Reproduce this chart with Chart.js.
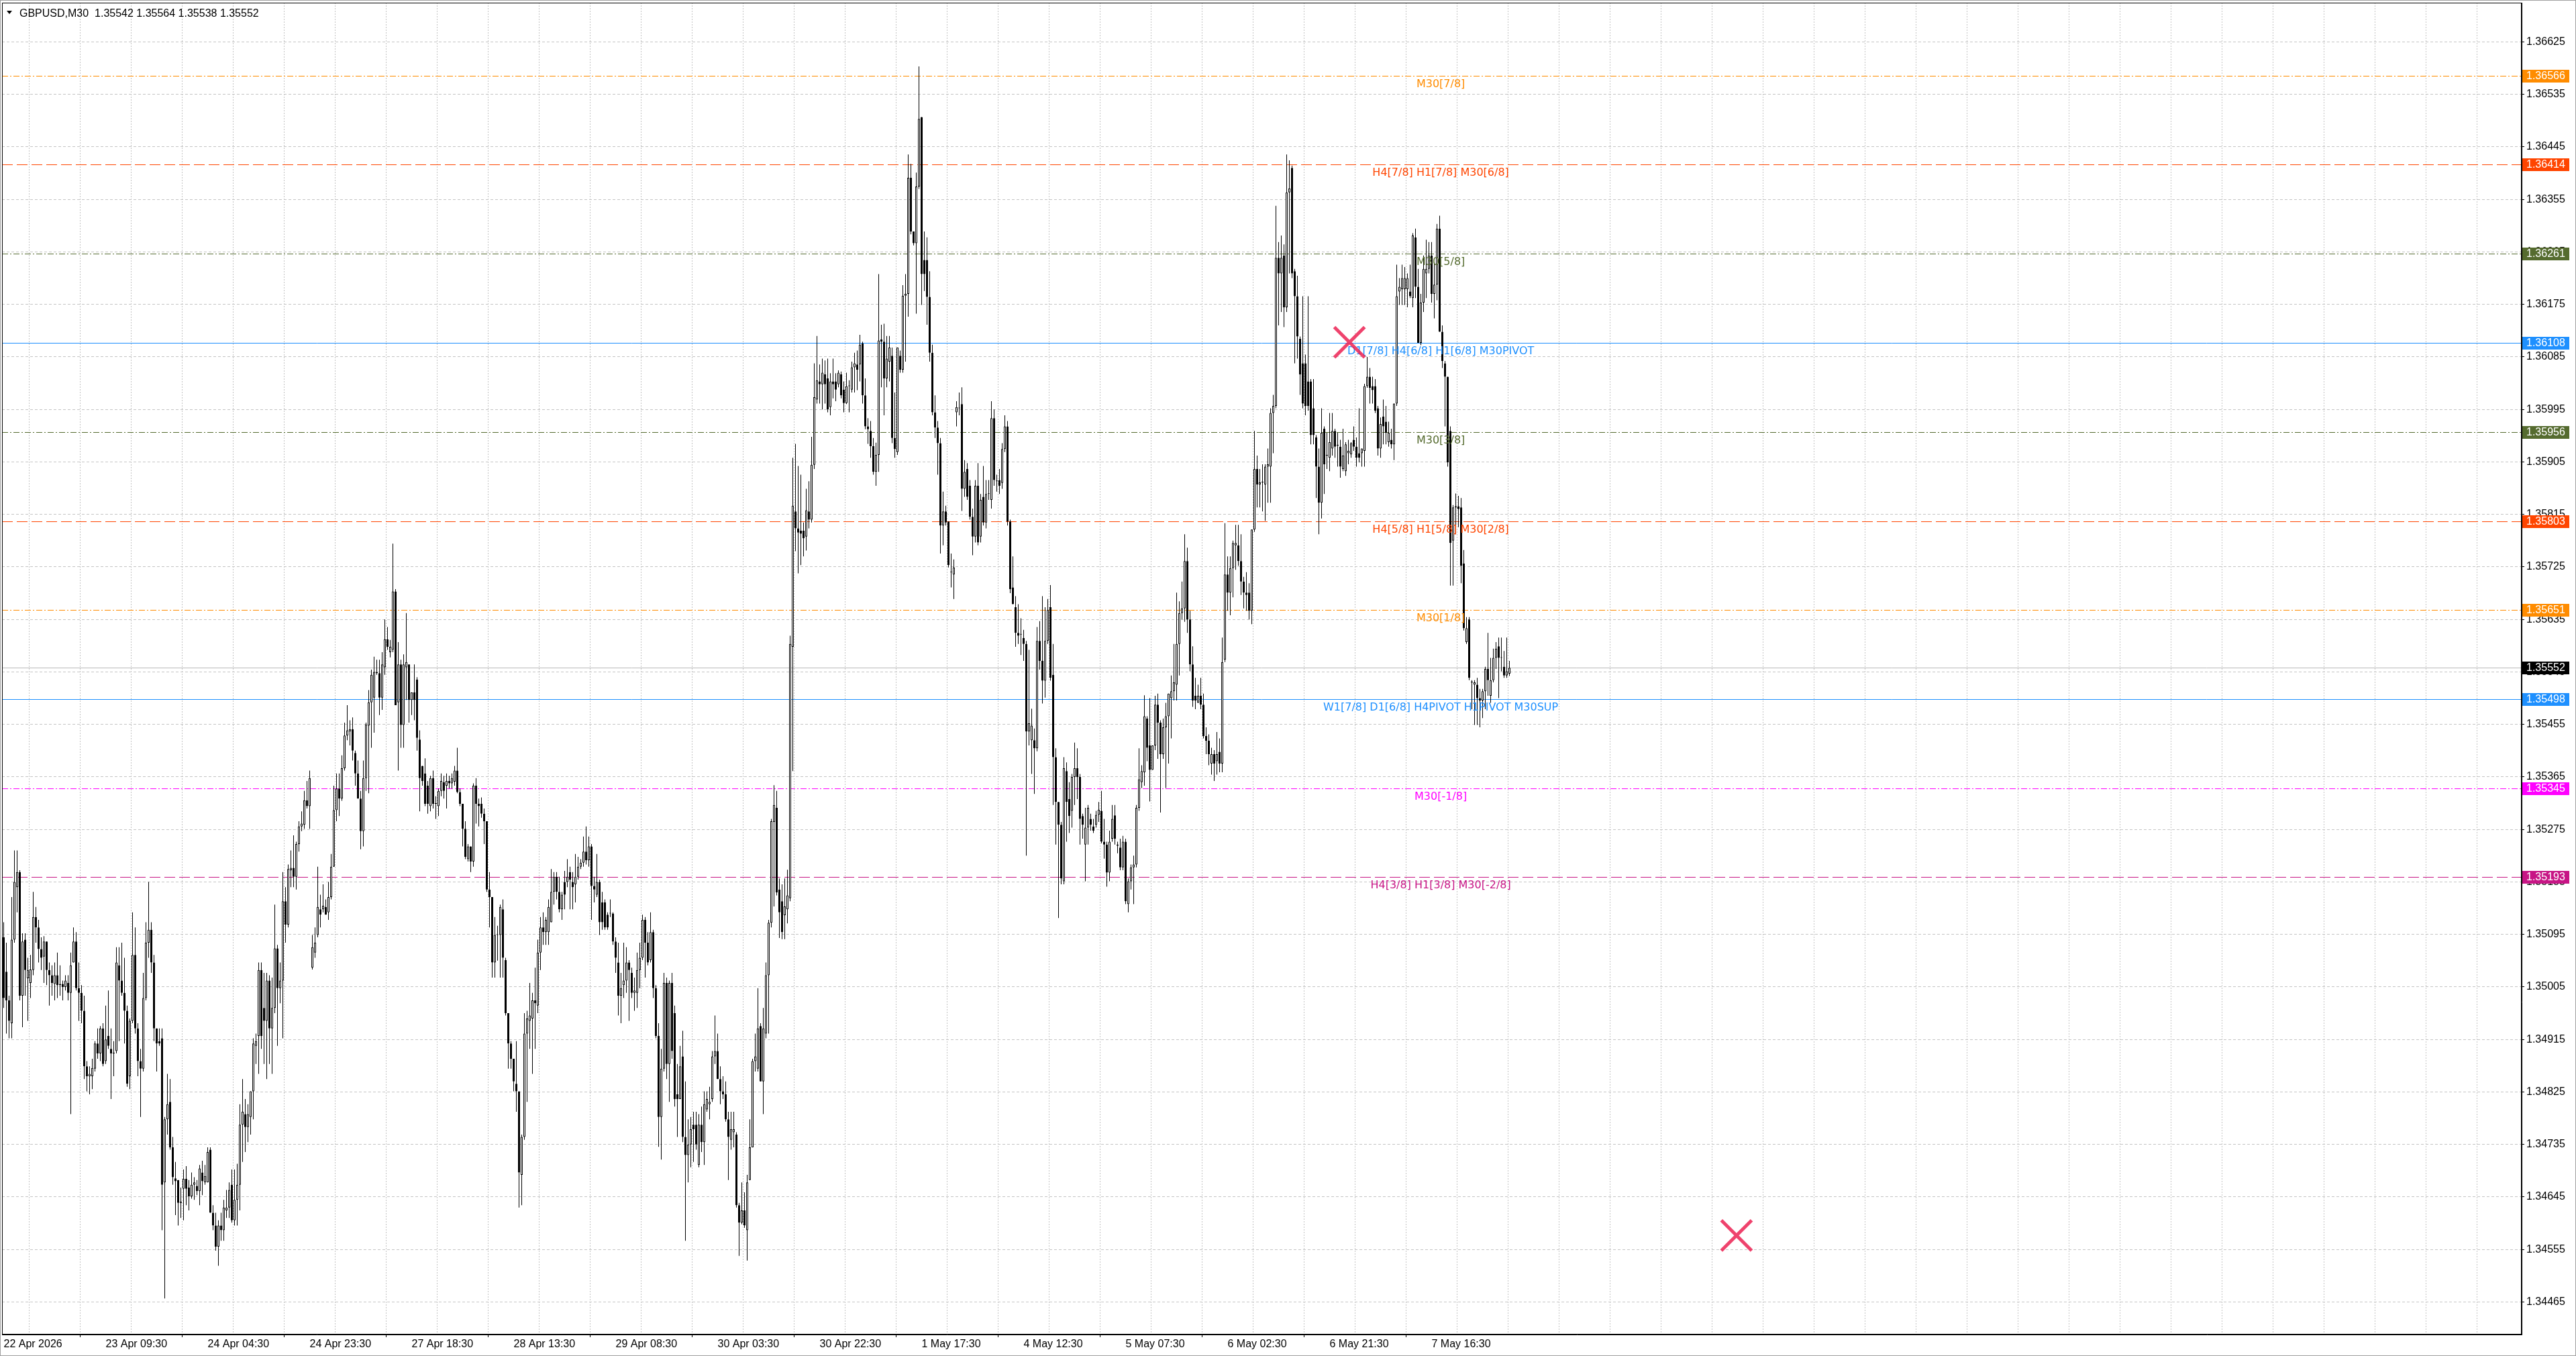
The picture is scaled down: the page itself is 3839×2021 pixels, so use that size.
<!DOCTYPE html>
<html>
<head>
<meta charset="utf-8">
<title>GBPUSD,M30</title>
<script src="https://cdn.jsdelivr.net/npm/chart.js@4.4.1/dist/chart.umd.min.js"></script>
<style>
    html, body { margin: 0; padding: 0; background: #fff; overflow: hidden; }
    canvas { display: block; }
</style>
</head>
<body>
<canvas id="chart" width="3839" height="2021" style="width:3839px;height:2021px"></canvas>
<script>
const symbol = 'GBPUSD,M30';
const BASE_PRICE = 1.34;
const POINT = 0.00001;

const opens = [
    1090,1031,982,943,1086,1176,1202,990,1086,1020, 1012,1034,1125,1107,1070,1057,1083,1034,1025,1010,
    1025,1008,1010,1005,1012,995,1047,1083,1003,995, 964,869,852,852,865,908,891,934,878,921,
    899,891,895,1042,1016,995,964,852,947,1060, 934,878,865,986,1081,1103,1047,934,912,917,
    670,778,808,730,677,674,635,659,676,661, 646,666,664,655,687,670,670,726,618,596,
    560,596,588,622,627,666,605,640,666,769, 787,765,782,826,904,921,1034,969,947,1016,
    934,969,1071,1003,1016,1152,1112,1205,1209,1194, 1250,1280,1283,1325,1315,1038,1064,1094,1138,1138,
    1142,1133,1159,1211,1308,1345,1328,1380,1436,1443, 1447,1406,1371,1328,1272,1363,1453,1493,1501,1545,
    1543,1501,1553,1601,1579,1583,1683,1493,1558,1454, 1553,1558,1497,1510,1532,1429,1384,1371,1350,1315,
    1363,1319,1315,1341,1356,1350,1358,1354,1357,1376, 1339,1319,1276,1224,1246,1220,1350,1319,1319,1302,
    1289,1172,1159,1047,1094,1094,1138,1051,960,908, 882,839,826,683,748,925,947,951,982,973,
    1064,1107,1099,1099,1116,1168,1194,1168,1138,1185, 1185,1202,1185,1181,1194,1211,1218,1237,1222,1246,
    1178,1163,1185,1150,1150,1129,1131,1131,1083,1047, 990,1008,1016,1047,1029,995,995,1034,1055,1120,
    1081,1051,1099,1003,921,782,865,1012,873,1012, 960,821,813,886,748,717,735,769,769,700,
    769,739,795,804,813,886,895,847,826,821, 778,743,756,752,631,601,622,588,674,730,
    878,865,938,843,925,1025,1115,1288,1312,1172, 1152,1128,1138,1157,1588,1820,1791,1787,1787,1777,
    1820,1806,1900,2012,2043,2038,2055,2048,1999,2043, 2043,2038,2055,2029,2006,2035,2029,2067,2072,2072,
    2108,2019,1966,1958,1932,1888,1917,2115,2111,2048, 2077,2087,1946,1922,2087,2063,2190,2193,2392,2300,
    2280,2377,2496,2251,2251,2188,2092,1990,1964,1937, 1796,1820,1803,1716,1712,1990,1997,2004,1859,1893,
    1864,1811,1777,1864,1777,1845,1801,1850,1840,1980, 1872,1874,1869,1927,1966,1803,1690,1656,1612,1609,
    1603,1593,1443,1428,1428,1414,1598,1564,1530,1598, 1656,1540,1399,1322,1283,1186,1375,1327,1307,1365,
    1380,1365,1298,1249,1278,1293,1280,1283,1300,1307, 1254,1249,1201,1259,1299,1249,1244,1210,1254,1147,
    1186,1210,1215,1312,1356,1373,1465,1419,1377,1419, 1489,1458,1404,1450,1469,1500,1512,1523,1593,1646,
    1654,1735,1635,1558,1504,1492,1504,1489,1435,1427, 1388,1404,1392,1408,1388,1566,1712,1681,1723,1762,
    1762,1735,1700,1681,1681,1650,1789,1893,1866,1870, 1866,1897,1897,1989,2001,2255,2228,2259,2170,2367,
    2409,2232,2189,2116,2074,2074,2043,2043,1997,1947, 1897,1835,1962,1916,1912,1928,1958,1933,1931,1893,
    1889,1920,1918,1943,1931,1920,1920,1924,2035,2051, 2035,2035,1997,1928,1983,1974,1939,1943,1935,2005,
    2197,2201,2201,2201,2197,2186,2290,2205,2109,2178, 2228,2236,2259,2193,2209,2305,2128,2074,2051,1958,
    1770,1827,1829,1827,1731,1596,1635,1527,1523,1523, 1500,1496,1512,1550,1504,1531,1569,1589,1569,1554,
    1539,1542
];
const highs = [
    1116,1081,990,1159,1239,1239,1205,1097,1097,1055, 1060,1168,1142,1120,1090,1092,1083,1047,1042,1047,
    1064,1042,1016,1025,1025,1064,1107,1099,1047,1008, 990,878,869,882,912,934,938,943,973,999,
    934,912,1073,1073,1081,1055,973,951,1133,1107, 943,899,1029,1116,1185,1116,1060,934,934,934,
    782,856,847,748,705,674,661,692,698,674, 687,679,674,700,707,700,730,730,631,618,
    605,618,640,657,670,692,692,702,804,847, 813,804,826,917,925,1047,1047,1029,1029,1025,
    1021,1146,1077,1047,1202,1176,1215,1239,1265,1254, 1289,1306,1341,1358,1376,1094,1107,1211,1163,1181,
    1155,1185,1233,1350,1371,1371,1402,1458,1488,1462, 1467,1410,1393,1341,1393,1458,1514,1549,1571,1566,
    1566,1579,1635,1622,1600,1765,1687,1596,1566,1575, 1646,1558,1510,1558,1536,1445,1384,1397,1358,1367,
    1376,1332,1345,1371,1367,1371,1367,1371,1384,1415, 1345,1319,1289,1250,1246,1354,1363,1328,1330,1311,
    1289,1202,1159,1125,1110,1146,1155,1055,960,912, 882,912,826,752,960,964,1012,995,1038,1086,
    1125,1133,1125,1155,1207,1202,1202,1194,1168,1204, 1224,1211,1202,1233,1228,1224,1263,1280,1263,1250,
    1194,1233,1189,1168,1155,1133,1155,1133,1090,1081, 1029,1081,1073,1051,1038,1021,1064,1081,1129,1125,
    1099,1133,1103,1008,943,899,1029,1021,1016,1029, 973,873,904,930,843,778,782,791,791,787,
    800,826,826,834,895,956,925,869,852,843, 791,791,791,756,635,670,653,683,778,882,
    925,1003,943,969,1047,1120,1293,1351,1341,1191, 1181,1191,1206,1607,1912,1936,1898,1883,1801,1859,
    1872,1948,2074,2121,2072,2082,2079,2082,2057,2082, 2057,2062,2060,2043,2058,2045,2077,2092,2096,2123,
    2111,2048,1980,1975,1946,1938,2227,2140,2142,2121, 2121,2101,2024,2101,2096,2208,2227,2432,2416,2300,
    2401,2583,2496,2300,2290,2232,2106,2019,1975,1946, 1854,1830,1803,1748,1738,2009,2024,2033,1908,1903,
    1874,1825,1874,1903,1850,1898,1874,1874,2009,1995, 1883,1893,1937,1985,1975,1806,1743,1675,1661,1637,
    1617,1598,1583,1482,1448,1622,1632,1675,1656,1670, 1694,1593,1414,1322,1288,1399,1390,1356,1370,1424,
    1414,1370,1302,1312,1317,1302,1293,1307,1322,1341, 1293,1254,1273,1317,1317,1254,1259,1264,1259,1191,
    1215,1230,1317,1414,1385,1505,1469,1500,1419,1504, 1508,1462,1465,1492,1508,1539,1593,1681,1666,1700,
    1781,1758,1650,1589,1535,1523,1535,1508,1450,1438, 1415,1411,1442,1431,1604,1800,1743,1743,1770,1797,
    1797,1781,1708,1716,1697,1789,1958,1916,1893,1901, 1901,1928,1997,2020,2344,2282,2293,2278,2432,2422,
    2413,2236,2224,2120,2189,2089,2189,2047,2047,1951, 1928,1997,1966,1955,1989,1989,1962,1955,1943,1962,
    1939,1943,1939,1966,1947,1997,1928,2039,2085,2066, 2051,2047,2001,1981,2012,2001,1974,1962,2005,2243,
    2220,2243,2239,2228,2243,2297,2305,2236,2193,2259, 2286,2282,2282,2247,2313,2327,2139,2078,2051,1966,
    1831,1851,1847,1843,1754,1639,1639,1531,1531,1535, 1516,1516,1554,1612,1569,1585,1596,1604,1604,1581,
    1604,1564
];
const lows = [
    969,925,917,917,1081,1133,982,936,990,947, 986,1025,1081,1047,1034,1012,1008,973,990,982,
    986,990,982,999,982,787,1047,999,947,943, 847,826,821,830,860,882,878,869,873,899,
    813,852,891,912,990,908,834,830,943,925, 852,782,860,982,1055,1029,912,860,904,588,
    471,752,726,666,614,596,609,605,631,622, 642,640,648,631,648,666,670,618,588,553,
    527,570,570,609,609,601,596,596,622,705, 722,739,752,778,873,856,899,873,847,873,
    856,960,904,977,917,1081,1107,1176,1176,1172, 1237,1272,1276,1311,1276,1035,1055,1090,1107,1133,
    1129,1120,1155,1211,1289,1298,1324,1376,1428,1419, 1393,1350,1328,1241,1246,1341,1337,1415,1441,1540,
    1471,1480,1540,1583,1570,1579,1488,1376,1415,1415, 1497,1458,1471,1462,1410,1306,1350,1315,1302,1306,
    1311,1293,1298,1332,1328,1311,1345,1345,1350,1337, 1315,1246,1224,1220,1202,1211,1285,1280,1295,1250,
    1168,1107,1021,1021,1050,1021,1021,956,865,865, 826,791,627,631,743,808,899,856,899,960,
    1034,1077,1077,1077,1116,1146,1155,1133,1120,1138, 1176,1138,1138,1150,1189,1207,1211,1215,1211,1120,
    1150,1159,1094,1103,1103,1103,1125,1077,1029,956, 943,986,995,947,986,964,969,1003,1051,1021,
    1042,1047,986,917,731,709,860,847,808,882, 800,748,813,739,570,670,696,705,726,696,
    722,700,791,778,808,873,847,804,813,774, 674,726,730,627,544,598,592,536,674,730,
    860,860,843,787,917,925,1107,1143,1162,1089, 1087,1087,1114,1152,1375,1752,1714,1728,1743,1753,
    1791,1801,1893,2005,2005,1995,2005,1990,1985,2014, 2009,2033,2014,1990,2004,1990,2024,2024,2028,2043,
    2005,1961,1936,1912,1883,1864,1888,2033,1985,2033, 2043,1937,1912,1917,2058,2058,2077,2154,2295,2276,
    2159,2373,2174,2198,2140,2077,1985,1946,1883,1748, 1762,1796,1724,1690,1670,1966,1985,1821,1845,1840,
    1806,1745,1767,1762,1767,1796,1791,1840,1825,1864, 1854,1850,1859,1922,1796,1680,1661,1588,1593,1574,
    1564,1230,1419,1370,1336,1409,1549,1491,1501,1593, 1530,1317,1249,1123,1181,1181,1254,1269,1278,1317,
    1327,1249,1259,1186,1249,1273,1269,1278,1288,1251, 1225,1177,1186,1254,1249,1234,1205,1205,1147,1133,
    1172,1147,1210,1307,1346,1350,1392,1323,1377,1411, 1396,1304,1396,1346,1388,1431,1496,1496,1539,1635,
    1631,1612,1546,1485,1481,1492,1481,1431,1404,1385, 1369,1358,1369,1373,1373,1562,1650,1642,1673,1720,
    1727,1677,1654,1650,1635,1627,1785,1827,1827,1820, 1804,1835,1835,1920,1997,2139,2162,2136,2162,2228,
    2220,2074,2082,2020,1997,1985,1993,1935,1935,1843, 1781,1808,1850,1893,1889,1916,1912,1897,1878,1889,
    1881,1901,1912,1924,1897,1904,1897,1897,2032,2005, 2005,1989,1916,1912,1935,1935,1931,1928,1908,2001,
    2174,2174,2174,2170,2186,2170,2186,2109,2105,2162, 2186,2228,2178,2151,2182,2128,2066,1966,1897,1693,
    1693,1781,1793,1697,1616,1593,1531,1481,1454,1454, 1450,1466,1481,1504,1492,1527,1550,1500,1546,1535,
    1535,1538
];
const closes = [
    986,982,947,1086,1185,1202,990,1083,1034,1034, 1035,1125,1107,1070,1055,1083,1034,1025,1012,1025,
    1008,1010,1005,1016,995,1042,1083,1003,995,964, 869,852,856,866,908,891,934,873,915,904,
    891,891,1047,1016,995,964,839,947,1060,934, 878,865,986,1081,1103,1047,934,908,908,666,
    778,804,730,679,672,635,637,676,659,646, 666,670,655,694,672,681,722,618,596,560,
    596,588,627,627,657,605,640,666,769,791, 765,787,826,908,912,1034,921,947,1016,934,
    969,1071,1003,1016,1152,1112,1207,1209,1194,1250, 1280,1285,1325,1315,1363,1073,1081,1142,1129,1144,
    1129,1159,1211,1308,1345,1328,1380,1436,1445,1447, 1410,1371,1328,1272,1363,1455,1493,1540,1545,1543,
    1501,1558,1601,1588,1588,1683,1488,1558,1454,1558, 1562,1497,1510,1497,1432,1363,1358,1319,1319,1363,
    1319,1319,1341,1358,1341,1358,1354,1363,1376,1339, 1319,1276,1228,1246,1220,1350,1319,1315,1302,1289,
    1172,1159,1047,1094,1094,1142,1055,960,908,882, 843,826,687,748,925,951,956,982,977,1064,
    1107,1099,1120,1142,1168,1194,1168,1138,1163,1163, 1194,1189,1176,1194,1211,1218,1237,1222,1246,1178,
    1172,1185,1116,1116,1107,1107,1131,1083,1055,990, 1003,1016,1047,1034,995,999,1034,1055,1120,1081,
    1047,1099,1003,921,782,865,1012,873,1012,895, 813,813,869,748,717,735,761,761,735,769,
    739,804,813,808,886,895,847,826,821,778, 748,761,761,631,601,622,596,670,730,878,
    886,934,843,934,1025,1115,1289,1317,1167,1133, 1099,1143,1162,1593,1830,1791,1784,1782,1774,1822,
    1806,1900,2016,2045,2038,2058,2038,1995,2043,2038, 2029,2058,2019,2006,2035,2035,2067,2074,2063,2106,
    2019,1966,1961,1932,1888,1917,2113,2111,2048,2082, 2101,1946,1927,2101,2063,2190,2193,2392,2300,2280,
    2377,2493,2227,2227,2188,2092,1990,1964,1937,1796, 1820,1801,1728,1716,1724,1999,1997,1859,1888,1845,
    1811,1777,1864,1767,1840,1801,1850,1850,1980,1874, 1872,1864,1927,1966,1803,1687,1661,1612,1607,1609,
    1593,1443,1457,1453,1414,1598,1564,1530,1598,1651, 1535,1399,1322,1283,1191,1380,1322,1298,1365,1380,
    1365,1293,1283,1278,1312,1283,1273,1300,1309,1254, 1249,1201,1254,1293,1259,1247,1210,1254,1152,1186,
    1210,1215,1312,1361,1375,1469,1415,1377,1419,1489, 1458,1404,1450,1469,1508,1512,1527,1593,1646,1654,
    1735,1635,1558,1496,1496,1504,1489,1435,1427,1404, 1404,1388,1404,1388,1562,1712,1681,1723,1766,1766,
    1735,1700,1681,1677,1650,1789,1893,1866,1870,1870, 1897,1901,1989,2001,2255,2228,2255,2170,2367,2374,
    2228,2189,2120,2055,2005,2001,2001,1951,1951,1897, 1835,1955,1901,1916,1939,1958,1931,1933,1897,1916,
    1935,1924,1937,1931,1912,1912,1928,2035,2051,2032, 2028,1993,1928,1970,1966,1955,1955,1935,2005,2189,
    2205,2220,2220,2220,2189,2293,2205,2109,2178,2236, 2236,2259,2193,2209,2305,2128,2078,2051,1904,1766,
    1827,1829,1824,1727,1620,1620,1535,1527,1527,1500, 1496,1512,1550,1531,1531,1569,1585,1569,1569,1539,
    1546,1552
];

// Axe du temps : une étiquette toutes les 38 barres, une ligne de grille toutes les 19
const timeLabels = [
    '22 Apr 2026', '23 Apr 09:30', '24 Apr 04:30', '24 Apr 23:30', '27 Apr 18:30',
    '28 Apr 13:30', '29 Apr 08:30', '30 Apr 03:30', '30 Apr 22:30', '1 May 17:30',
    '4 May 12:30', '5 May 07:30', '6 May 02:30', '6 May 21:30', '7 May 16:30'
];
const BARS_PER_LABEL = 38;
const BARS_PER_GRID = 19;

// Axe des prix
const priceTicks = [
    1.34465, 1.34555, 1.34645, 1.34735, 1.34825, 1.34915, 1.35005, 1.35095, 1.35185,
    1.35275, 1.35365, 1.35455, 1.35545, 1.35635, 1.35725, 1.35815, 1.35905, 1.35995,
    1.36085, 1.36175, 1.36265, 1.36355, 1.36445, 1.36535, 1.36625
];

// Niveaux horizontaux (Murrey)
const levelPrices = [1.36566, 1.36414, 1.36261, 1.36108, 1.35956, 1.35803, 1.35651, 1.35498, 1.35345, 1.35193];
const levelNames = [
    'M30[7/8]', 'H4[7/8] H1[7/8] M30[6/8]', 'M30[5/8]', 'D1[7/8] H4[6/8] H1[6/8] M30PIVOT',
    'M30[3/8]', 'H4[5/8] H1[5/8] M30[2/8]', 'M30[1/8]', 'W1[7/8] D1[6/8] H4PIVOT H1PIVOT M30SUP',
    'M30[-1/8]', 'H4[3/8] H1[3/8] M30[-2/8]'
];
const levelLabelBar = 535.4;

// Objets croix (barre, prix)
const crossBars = [501.4, 645.6];
const crossPrices = [1.36110, 1.34579];

// --- Styles ---
const levelColors = ['#ff8c00', '#ff4500', '#556b2f', '#1e90ff', '#556b2f', '#ff4500', '#ff8c00', '#1e90ff', '#ff00ff', '#c71585'];
const levelStyles = ['dashdot', 'dash', 'dashdot', 'solid', 'dashdot', 'dash', 'dashdot', 'solid', 'dashdot', 'dash'];
const DASHES = { solid: [], dash: [16, 6], dashdot: [9, 3, 2, 3] };
const GRID_COLOR = '#c4c4c4';
const AXIS_FONT = '"Liberation Sans", Arial, sans-serif';
const LEVEL_FONT = '"DejaVu Sans", Verdana, sans-serif';

const X_MIN = -0.625;
const X_MAX = 938.125;
const Y_MIN = 1.344092;
const Y_MAX = 1.366922;

const toPrice = p => +(BASE_PRICE + p * POINT).toFixed(5);
const fmt = p => toPrice(p).toFixed(5);
const barIdx = opens.map((_, i) => i);
const lastBar = opens.length - 1;
const bidPrice = toPrice(closes[lastBar]);

const wickData = barIdx.map(i => ({ x: i, y: [toPrice(lows[i]), toPrice(highs[i])] }));
const bodyData = barIdx.map(i => ({
    x: i,
    y: [toPrice(Math.min(opens[i], closes[i])), toPrice(Math.max(opens[i], closes[i]))]
}));
const bodyColors = barIdx.map(i => closes[i] >= opens[i] ? '#ffffff' : '#000000');

const levelSets = levelPrices.map((p, k) => ({
    type: 'line',
    data: [{ x: X_MIN, y: p }, { x: X_MAX, y: p }],
    borderColor: levelColors[k],
    borderWidth: 1,
    borderDash: DASHES[levelStyles[k]],
    pointRadius: 0,
    snapPrice: p,
    order: 5
}));

const datasets = [
    ...levelSets,
    {
        type: 'line',
        data: [{ x: X_MIN, y: bidPrice }, { x: X_MAX, y: bidPrice }],
        borderColor: '#b8b8b8',
        borderWidth: 1,
        pointRadius: 0,
        snapPrice: bidPrice,
        order: 4
    },
    {
        type: 'bar',
        data: wickData,
        backgroundColor: '#000000',
        borderWidth: 0,
        barThickness: 1,
        grouped: false,
        inflateAmount: 0,
        order: 3
    },
    {
        type: 'bar',
        data: bodyData,
        backgroundColor: bodyColors,
        borderColor: '#000000',
        borderWidth: 1,
        borderSkipped: false,
        barThickness: 3,
        minBarLength: 1,
        grouped: false,
        inflateAmount: 0,
        order: 2
    },
    {
        type: 'line',
        showLine: false,
        data: crossBars.map((b, k) => ({ x: b, y: crossPrices[k] })),
        pointStyle: 'crossRot',
        pointRadius: 32,
        pointBorderWidth: 5,
        pointBorderColor: 'rgba(236, 34, 84, 0.85)',
        pointBackgroundColor: 'transparent',
        order: 0
    }
];
const BODY_INDEX = datasets.length - 2;

// Fond blanc et cadre du graphique
const framePlugin = {
    id: 'frame',
    beforeDraw(chart) {
        const ctx = chart.ctx;
        ctx.save();
        ctx.fillStyle = '#ffffff';
        ctx.fillRect(0, 0, chart.width, chart.height);
        ctx.restore();
    },
    afterDraw(chart) {
        const { ctx, chartArea: a } = chart;
        ctx.save();
        ctx.strokeStyle = '#000000';
        ctx.lineWidth = 1;
        ctx.strokeRect(Math.round(a.left) + 0.5, Math.round(a.top) + 0.5,
            Math.round(a.right - a.left) - 1, Math.round(a.bottom - a.top) - 1);
        ctx.strokeStyle = '#a0a0a0';
        ctx.strokeRect(0.5, 0.5, chart.width - 1, chart.height - 1);
        ctx.restore();
    }
};

// Lignes horizontales calées sur le pixel (trait net)
const snapPlugin = {
    id: 'snapLines',
    beforeDatasetDraw(chart, args) {
        const ds = chart.data.datasets[args.index];
        if (ds.snapPrice === undefined) return;
        const py = chart.scales.y.getPixelForValue(ds.snapPrice);
        chart.ctx.save();
        chart.ctx.translate(0, Math.floor(py) + 0.5 - py);
    },
    afterDatasetDraw(chart, args) {
        if (chart.data.datasets[args.index].snapPrice === undefined) return;
        chart.ctx.restore();
    }
};

// Textes des niveaux, dessinés au-dessus des bougies
const levelLabelPlugin = {
    id: 'levelLabels',
    afterDatasetDraw(chart, args) {
        if (args.index !== BODY_INDEX) return;
        const { ctx, scales: { x, y } } = chart;
        const cx = x.getPixelForValue(levelLabelBar);
        ctx.save();
        ctx.font = '16px ' + LEVEL_FONT;
        ctx.textAlign = 'center';
        ctx.textBaseline = 'top';
        levelPrices.forEach((p, k) => {
            ctx.fillStyle = levelColors[k];
            ctx.fillText(levelNames[k], cx, Math.floor(y.getPixelForValue(p)) + 5);
        });
        ctx.restore();
    }
};

// Étiquettes colorées sur l'échelle des prix
const priceBoxPlugin = {
    id: 'priceBoxes',
    afterDraw(chart) {
        const { ctx, chartArea: a, scales: { y } } = chart;
        const boxes = levelPrices.map((p, k) => ({ p, color: levelColors[k] }));
        boxes.push({ p: bidPrice, color: '#000000' });
        ctx.save();
        ctx.font = '16px ' + AXIS_FONT;
        ctx.textAlign = 'left';
        ctx.textBaseline = 'middle';
        boxes.forEach(b => {
            const py = Math.floor(y.getPixelForValue(b.p));
            ctx.fillStyle = b.color;
            ctx.fillRect(a.right + 1, py - 9, 70, 19);
            ctx.fillStyle = '#ffffff';
            ctx.fillText(b.p.toFixed(5), a.right + 7, py + 1);
        });
        ctx.restore();
    }
};

// En-tête symbole / OHLC de la dernière barre
const headerPlugin = {
    id: 'header',
    afterDraw(chart) {
        const ctx = chart.ctx;
        ctx.save();
        ctx.fillStyle = '#000000';
        ctx.beginPath();
        ctx.moveTo(10, 16);
        ctx.lineTo(18, 16);
        ctx.lineTo(14, 21);
        ctx.closePath();
        ctx.fill();
        ctx.font = '16px ' + AXIS_FONT;
        ctx.textBaseline = 'alphabetic';
        const text = symbol + '  ' + [opens[lastBar], highs[lastBar], lows[lastBar], closes[lastBar]].map(fmt).join(' ');
        ctx.fillText(text, 29, 25);
        ctx.restore();
    }
};

const gridBars = [];
for (let v = 0; v <= X_MAX; v += BARS_PER_GRID) gridBars.push(v);

new Chart(document.getElementById('chart'), {
    type: 'bar',
    data: { datasets },
    options: {
        responsive: false,
        animation: false,
        devicePixelRatio: 1,
        events: [],
        layout: { autoPadding: false, padding: { left: 3, top: 4, right: 0, bottom: 0 } },
        plugins: { legend: { display: false }, tooltip: { enabled: false } },
        scales: {
            x: {
                type: 'linear',
                min: X_MIN,
                max: X_MAX,
                offset: false,
                grid: {
                    color: GRID_COLOR,
                    tickLength: 4,
                    tickColor: c => (c.tick && c.tick.value % BARS_PER_LABEL === 0 &&
                        c.tick.value / BARS_PER_LABEL < timeLabels.length) ? '#000000' : 'rgba(0,0,0,0)'
                },
                border: { display: true, color: '#000000', dash: [2, 2] },
                ticks: {
                    autoSkip: false,
                    maxRotation: 0,
                    minRotation: 0,
                    align: 'start',
                    padding: 1,
                    color: '#000000',
                    font: { family: AXIS_FONT, size: 16 },
                    callback: v => {
                        const k = v / BARS_PER_LABEL;
                        return Number.isInteger(k) && k < timeLabels.length ? timeLabels[k] : '';
                    }
                },
                afterBuildTicks: axis => { axis.ticks = gridBars.map(v => ({ value: v })); },
                afterFit: axis => {
                    axis.height = 32;
                    axis.paddingLeft = 0;
                    axis.paddingRight = 0;
                }
            },
            y: {
                type: 'linear',
                position: 'right',
                min: Y_MIN,
                max: Y_MAX,
                grid: { color: GRID_COLOR, tickLength: 4, tickColor: '#000000' },
                border: { display: true, color: '#000000', dash: [4, 3] },
                ticks: {
                    autoSkip: false,
                    padding: 3,
                    color: '#000000',
                    font: { family: AXIS_FONT, size: 16 },
                    callback: v => v.toFixed(5)
                },
                afterBuildTicks: axis => { axis.ticks = priceTicks.map(v => ({ value: v })); },
                afterFit: axis => {
                    axis.width = 81;
                    axis.paddingTop = 0;
                    axis.paddingBottom = 0;
                }
            }
        }
    },
    plugins: [framePlugin, snapPlugin, levelLabelPlugin, priceBoxPlugin, headerPlugin]
});
</script>
</body>
</html>
